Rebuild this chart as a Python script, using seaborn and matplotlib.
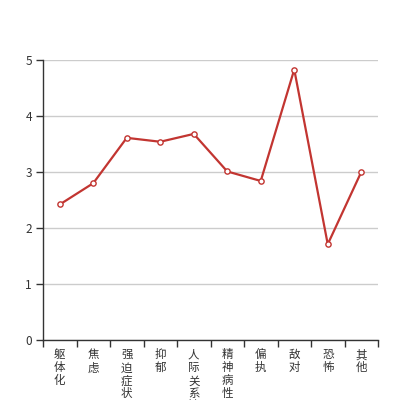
import numpy as np
import matplotlib
matplotlib.use("Agg")
import matplotlib.pyplot as plt
import seaborn as sns
from matplotlib.ticker import FixedLocator

# factor names (SCL-90 style) and mean scores
categories = ["躯体化", "焦虑", "强迫症状", "抑郁", "人际关系敏感",
              "精神病性", "偏执", "敌对", "恐怖", "其他"]
scores = [2.42, 2.80, 3.61, 3.54, 3.68, 3.01, 2.84, 4.83, 1.71, 3.00]
y_ticks = [0, 1, 2, 3, 4, 5]

sns.set_style("white")
plt.rcParams["font.family"] = ["Noto Sans CJK SC", "DejaVu Sans"]

fig = plt.figure(figsize=(4.2, 4.0), dpi=100)
ax = fig.add_axes([43 / 420, 60 / 400, 335 / 420, 280 / 400])

pos = np.arange(len(categories))
sns.lineplot(x=pos, y=scores, ax=ax, color="#c23531", linewidth=1.6,
             marker="o", markersize=3.8, markerfacecolor="white",
             markeredgecolor="#c23531", markeredgewidth=1.0)

ax.set_xlim(-0.5, len(categories) - 0.5)
ax.set_ylim(0, 5)
ax.set_yticks(y_ticks)
ax.yaxis.grid(True, color="#cccccc", linewidth=1)
ax.set_axisbelow(True)

# vertical (stacked) labels at band centres, ticks at band edges
ax.set_xticks(pos)
ax.set_xticklabels(["\n".join(c) for c in categories], fontsize=8.3,
                   linespacing=1.0, va="top", color="#333333")
ax.xaxis.set_minor_locator(FixedLocator(np.arange(-0.5, len(categories), 1.0)))
ax.tick_params(axis="x", which="major", bottom=True, length=0, pad=6)
ax.tick_params(axis="x", which="minor", bottom=True, length=5, width=1,
               color="#333333", direction="out")
ax.tick_params(axis="y", left=True, length=5, width=1, color="#333333", direction="out",
               labelsize=8.5, labelcolor="#333333", pad=3)

for side in ["top", "right"]:
    ax.spines[side].set_visible(False)
for side in ["left", "bottom"]:
    ax.spines[side].set_color("#333333")
    ax.spines[side].set_linewidth(1)

ax.set_xlabel("")
ax.set_ylabel("")
fig.savefig("out.png", dpi=100)
